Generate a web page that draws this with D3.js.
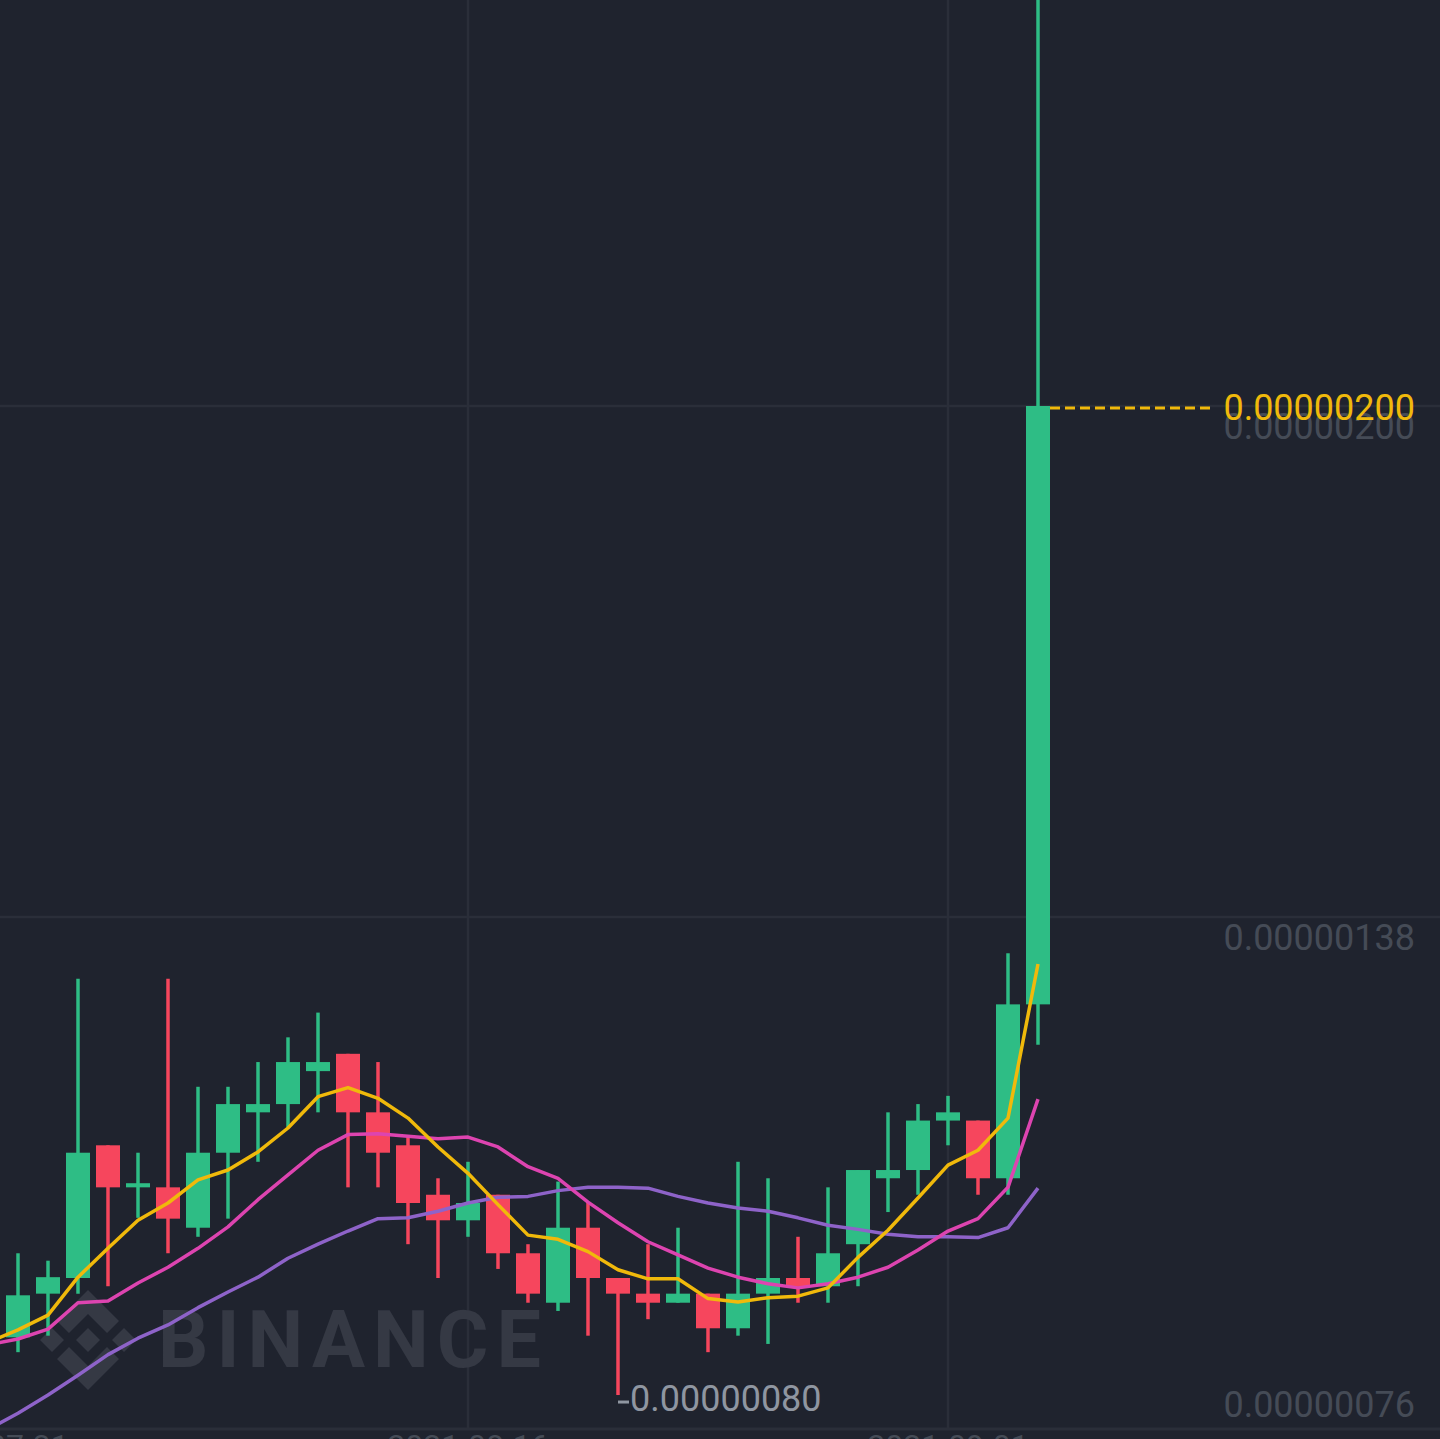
<!DOCTYPE html>
<html>
<head>
<meta charset="utf-8">
<script src="https://cdn.jsdelivr.net/npm/d3@7/dist/d3.min.js"></script>
<style>
  html, body { margin: 0; padding: 0; background: #1f232e; }
  svg { display: block; }
</style>
</head>
<body>
<svg id="chart" width="1440" height="1439"></svg>
<script>
// ---- data (prices in units of 1e-8) ----
const UNIT = 1e-8;
const dates = d3.range(35).map(i => d3.timeFormat("%Y-%m-%d")(d3.timeDay.offset(new Date(2021, 7, 1), i)));
const open  = [87.0,92.3,94.2,110.3,105.2,105.2,100.3,109.4,114.3,115.3,119.3,121.4,114.3,110.3,104.3,101.2,104.3,97.2,91.2,100.3,94.2,92.3,91.2,92.3,88.1,92.3,94.2,93.2,98.3,106.3,107.3,113.3,113.3,106.3,127.4];
const high  = [97.2,96.3,130.5,110.3,109.4,130.5,117.4,117.4,120.4,123.4,126.4,121.4,120.4,111.3,106.3,108.3,104.3,98.3,105.9,103.3,94.2,98.3,100.3,92.3,108.3,106.3,99.2,105.2,107.3,114.3,115.3,116.3,113.3,133.6,252];
const low   = [85.2,87.2,92.3,93.2,101.5,97.2,99.2,101.4,108.3,112.5,114.3,105.2,105.2,98.3,94.2,99.2,95.3,91.2,90.2,87.2,80.0,89.2,91.2,85.2,87.2,86.2,91.2,91.2,93.2,102.2,104.3,110.3,104.3,104.3,122.5];
const close = [92.1,94.3,109.4,105.2,105.7,101.4,109.4,115.3,115.3,120.4,120.4,114.3,109.4,103.3,101.2,103.3,97.2,92.3,100.3,94.2,92.3,91.2,92.3,88.1,92.3,94.2,93.2,97.2,107.3,107.3,113.3,114.3,106.3,127.4,200];
// moving averages, first value belongs to the candle before the first visible one
const MA_START = -1;
const ma7  = [86.4,87.9,89.7,94.3,97.8,101.2,103.3,106.1,107.3,109.5,112.4,116.2,117.3,116.0,113.6,110.1,106.9,103.1,99.4,98.9,97.4,95.2,94.1,94.1,91.7,91.3,91.8,92.0,93.0,96.7,100.0,103.9,107.9,109.7,113.6,132.3];
const ma25 = [86.1,86.8,88.0,91.2,91.4,93.6,95.5,97.8,100.4,103.7,106.7,109.7,111.6,111.7,111.4,111.1,111.3,110.1,107.7,106.3,103.4,100.9,98.6,97.0,95.4,94.3,93.5,93.0,93.5,94.3,95.5,97.6,99.9,101.4,105.2,115.9];
const ma99 = [75.8,77.8,80.0,82.4,84.9,86.9,88.5,90.6,92.5,94.3,96.6,98.3,99.9,101.4,101.5,102.3,103.3,104.0,104.1,104.8,105.2,105.2,105.1,104.1,103.3,102.7,102.3,101.5,100.6,100.1,99.5,99.2,99.2,99.1,100.3,105.1];
const yTicks = [76, 138, 200];
const xTickIdx = [-1, 15, 31];
const xTickLabels = ["2021-07-31", "2021-08-16", "2021-09-01"];
const lastPrice = close[close.length - 1];
const lowIdx = low.indexOf(d3.min(low));

// ---- layout ----
const W = 1440, H = 1439;
const plotBottom = 1428;
const C = {
  bg: "#1f232e", grid: "#2a2e39", up: "#2ebd85", down: "#f6465d",
  ma7: "#f0b90b", ma25: "#dd44b0", ma99: "#8e63c9",
  axisText: "#454b56", lowText: "#8f96a1", mark: "#353944"
};
const FONT = "Roboto, sans-serif";

const svg = d3.select("#chart");
svg.append("rect").attr("width", W).attr("height", H).attr("fill", C.bg);

const x = d3.scaleLinear().domain([0, 34]).range([18, 1038]);
const y = d3.scaleLinear().domain([76, 200]).range([plotBottom, 406]);

svg.append("defs").append("clipPath").attr("id", "plot")
  .append("rect").attr("x", 0).attr("y", 0).attr("width", W).attr("height", plotBottom);

// grid
const grid = svg.append("g");
grid.selectAll("line.h").data(yTicks.filter(t => t !== 76)).join("line")
  .attr("x1", 0).attr("x2", W).attr("y1", d => y(d)).attr("y2", d => y(d))
  .attr("stroke", C.grid).attr("stroke-width", 2.5);
grid.selectAll("line.v").data(xTickIdx.filter(i => i >= 0)).join("line")
  .attr("x1", d => x(d)).attr("x2", d => x(d)).attr("y1", 0).attr("y2", plotBottom)
  .attr("stroke", C.grid).attr("stroke-width", 2.5);
grid.append("line").attr("x1", 0).attr("x2", W).attr("y1", plotBottom + 1).attr("y2", plotBottom + 1)
  .attr("stroke", C.grid).attr("stroke-width", 3);

// watermark
const wm = svg.append("g").attr("fill", C.mark);
const lc = [88, 1340], s = 1.0;
const logoPolys = [
  [[0,-50],[31,-19],[19,-7],[0,-26],[-19,-7],[-31,-19]],
  [[0,50],[31,19],[19,7],[0,26],[-19,7],[-31,19]],
  [[0,-12],[12,0],[0,12],[-12,0]],
  [[-36,-12],[-24,0],[-36,12],[-48,0]],
  [[36,-12],[48,0],[36,12],[24,0]]
];
wm.selectAll("polygon").data(logoPolys).join("polygon")
  .attr("points", d => d.map(p => [lc[0] + p[0]*s, lc[1] + p[1]*s].join(",")).join(" "));
wm.append("text").attr("x", 158).attr("y", 1367)
  .attr("font-family", FONT).attr("font-weight", 700)
  .attr("font-size", 79).attr("letter-spacing", 8).text("BINANCE");

// y axis labels (grey) — below the grid line, except the bottom one which sits above the axis
svg.append("g").selectAll("text").data(yTicks).join("text")
  .attr("x", 1415).attr("y", d => Math.min(y(d) + 33, plotBottom - 11)).attr("text-anchor", "end")
  .attr("font-family", FONT).attr("font-size", 36)
  .attr("fill", C.axisText).text(d => (d * UNIT).toFixed(8));

// x axis labels (cut off at bottom)
svg.append("g").selectAll("text").data(xTickIdx).join("text")
  .attr("x", d => x(d)).attr("y", 1457).attr("text-anchor", "middle")
  .attr("font-family", FONT).attr("font-size", 32)
  .attr("fill", C.axisText).text((d, i) => xTickLabels[i]);

// candles
const plot = svg.append("g").attr("clip-path", "url(#plot)");
const idx = d3.range(open.length);
const col = i => close[i] >= open[i] ? C.up : C.down;
plot.selectAll("line.wick").data(idx).join("line")
  .attr("x1", i => x(i)).attr("x2", i => x(i))
  .attr("y1", i => y(high[i])).attr("y2", i => y(low[i]))
  .attr("stroke", col).attr("stroke-width", 3.5);
plot.selectAll("rect.body").data(idx).join("rect")
  .attr("x", i => x(i) - 12).attr("width", 24)
  .attr("y", i => y(Math.max(open[i], close[i])))
  .attr("height", i => Math.max(3, Math.abs(y(open[i]) - y(close[i]))))
  .attr("fill", col);

// moving averages
const maLine = d3.line().x((d, i) => x(i + MA_START)).y(d => y(d));
[[ma99, C.ma99], [ma25, C.ma25], [ma7, C.ma7]].forEach(([arr, c]) => {
  plot.append("path").datum(arr).attr("d", maLine)
    .attr("fill", "none").attr("stroke", c).attr("stroke-width", 3.5)
    .attr("stroke-linejoin", "round");
});

// last price dashed line + label
const ly = y(lastPrice) + 2;
svg.append("line").attr("x1", x(34) + 12).attr("x2", 1214).attr("y1", ly).attr("y2", ly)
  .attr("stroke", C.ma7).attr("stroke-width", 3).attr("stroke-dasharray", "10,5");
svg.append("text").attr("x", 1415).attr("y", ly + 12).attr("text-anchor", "end")
  .attr("font-family", FONT).attr("font-size", 36)
  .attr("fill", C.ma7).text((lastPrice * UNIT).toFixed(8));

// lowest price marker
const lowY = y(low[lowIdx]) + 7;
svg.append("line").attr("x1", x(lowIdx)).attr("x2", x(lowIdx) + 11)
  .attr("y1", lowY).attr("y2", lowY).attr("stroke", C.lowText).attr("stroke-width", 3);
svg.append("text").attr("x", x(lowIdx) + 12).attr("y", lowY + 9)
  .attr("font-family", FONT).attr("font-size", 36)
  .attr("fill", C.lowText).text((low[lowIdx] * UNIT).toFixed(8));
</script>
</body>
</html>
